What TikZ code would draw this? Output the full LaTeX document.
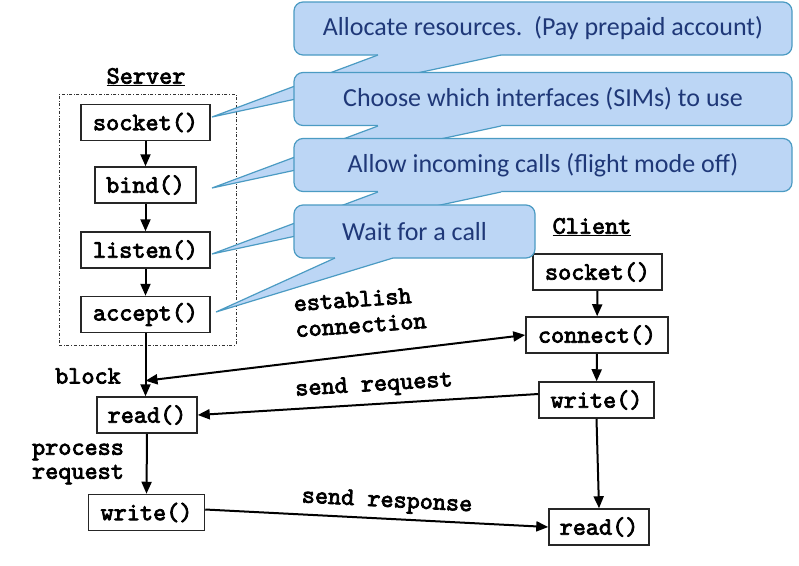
\documentclass[tikz,border=0pt]{standalone}
\usepackage{fontspec}
\newfontfamily\callfont{Carlito}
\newfontfamily\cour{lmmono10-regular.otf}[FakeBold=3]
\usetikzlibrary{arrows.meta,calc}
\definecolor{cfill}{RGB}{188,214,245}
\definecolor{cline}{RGB}{75,155,195}
\definecolor{ctext}{RGB}{31,56,120}
\newcommand\mytail[5]{%
  \fill[cfill] (#1,#3-2.5) -- (#2,#3-2.5) -- (#2,#3) -- (#4,#5) -- (#1,#3) -- cycle;
  \draw[cedge] (#1,#3) -- (#4,#5) -- (#2,#3);}
\begin{document}
\begin{tikzpicture}[x=1pt,y=-1pt,
  fbox/.style={draw=black!85, line width=1.5pt, inner sep=0pt, minimum height=36pt,
    font=\fontsize{25}{28}\selectfont\cour, fill=white},
  lbl/.style={inner sep=0pt, font=\fontsize{25}{25}\selectfont\cour},
  arr/.style={line width=2pt, -{Triangle[length=12pt,width=10pt]}},
  darr/.style={line width=2pt, {Triangle[length=12pt,width=10pt]}-{Triangle[length=12pt,width=10pt]}},
  cbox/.style={draw=cline, fill=cfill, line width=1.2pt, rounded corners=9pt, inner sep=0pt,
    minimum height=53pt, text=ctext, font=\fontsize{26}{30}\selectfont\callfont},
  cedge/.style={draw=cline, line width=1.2pt},
  grp/.style={draw=black!80, dash dot, line width=0.8pt, inner sep=0pt},
]
\useasboundingbox (0,0) rectangle (799,565);
\fill[white] (0,0) rectangle (799,565);

% server group
\node[lbl] (srv) at (146,77) {\underline{Server}};
\node[grp, minimum width=177pt, minimum height=251pt] (group) at (147.5,219.5) {};
\node[fbox, minimum width=129pt] (ssock) at (145.5,122.5) {socket()};
\node[fbox, minimum width=101pt] (sbind) at (145.5,185) {bind()};
\node[fbox, minimum width=129pt] (slist) at (145.5,250) {listen()};
\node[fbox, minimum width=129pt] (sacc) at (145.5,314.5) {accept()};
\node[fbox, minimum width=100pt] (sread) at (147,415) {read()};
\node[fbox, minimum width=116pt] (swrite) at (146.5,512.5) {write()};

% client
\node[lbl] (cli) at (592,227) {\underline{Client}};
\node[fbox, minimum width=129pt] (csock) at (597.5,272) {socket()};
\node[fbox, minimum width=142pt] (cconn) at (597,335) {connect()};
\node[fbox, minimum width=115pt] (cwrite) at (596.5,400) {write()};
\node[fbox, minimum width=100pt] (cread) at (599,527) {read()};

% arrows
\draw[arr] (ssock) -- (sbind);
\draw[arr] (sbind) -- (slist);
\draw[arr] (slist) -- (sacc);
\draw[arr] (sacc.south) -- (sacc.south |- sread.north);
\coordinate (blk) at ($(sacc.south)+(0,47.5)$);
\draw[darr] (blk) -- (cconn.west);
\draw[arr] ([yshift=6pt]cwrite.west) -- (sread.east);
\draw[arr] (sread.south) -- (swrite.north);
\draw[arr] ([yshift=3pt]swrite.east) -- (cread.west);
\draw[arr] (csock) -- (cconn);
\draw[arr] (cconn) -- (cwrite);
\draw[arr] (cwrite.south) -- (cread.north);

% labels
\node[lbl, rotate=4, align=left, font=\fontsize{25}{26}\selectfont\cour] (est) at (360,312) {establish\\connection};
\node[lbl] (blkl) at (88,376) {block};
\node[lbl, rotate=3.5] (sreq) at (374,386) {send request};
\node[lbl, align=left, font=\fontsize{25}{24}\selectfont\cour] (proc) at (78,464) {process\\request};
\node[lbl, rotate=-3] (sresp) at (387,502) {send response};

% callouts
\node[cbox, minimum width=498pt] (c1) at (543,28.5) {Allocate resources.\ \ (Pay prepaid account)};
\mytail{378}{501}{55}{212}{117}
\node[cbox, minimum width=498pt] (c2) at (543,99) {Choose which interfaces (SIMs) to use};
\mytail{378}{501}{126}{212}{188}
\node[cbox, minimum width=498pt] (c3) at (543,165) {Allow incoming calls (flight mode off)};
\mytail{378}{501}{192}{212}{254}
\node[cbox, minimum width=241pt] (c4) at (414.5,231.5) {Wait for a call};
\mytail{335}{393}{258}{216}{312}
\end{tikzpicture}
\end{document}
